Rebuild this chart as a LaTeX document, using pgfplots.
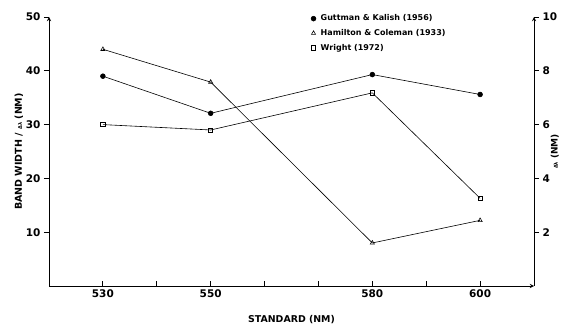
\documentclass[border=0pt]{standalone}
\usepackage{fontspec}
\setmainfont{DejaVu Sans}
\usepackage{pgfplots}
\pgfplotsset{compat=1.18}
\begin{document}
\begin{tikzpicture}
\pgfplotsset{
 common/.style={width=485pt,height=269pt,scale only axis,
   xmin=520,xmax=610,ymin=0,ymax=50,
   /pgf/number format/assume math mode=true,
   ticklabel style={font=\bfseries\fontsize{10.5}{12}\selectfont},
   axis line style={-, line width=0.9pt},
   tick style={line width=0.8pt, black},
   major tick length=5pt, minor tick length=5pt, clip=false},
}
\begin{axis}[common, name=ax,
  axis x line=bottom, axis y line=none, tick align=inside,
  xtick={530,550,580,600}, minor xtick={540,560,570,590},
  xlabel={STANDARD (NM)},
  xlabel style={font=\bfseries\fontsize{9.4}{11}\selectfont, at={(axis description cs:0.5,-0.126)}, anchor=center},
  legend image code/.code={\draw[#1,only marks] plot coordinates {(0.1cm,0cm)}; \path[draw=none,fill=none] (0.3cm,0cm);},
  legend style={draw=none, fill=none, font=\bfseries\fontsize{8}{9}\selectfont,
    at={(0.538,1.018)}, anchor=north west, row sep=4pt, inner sep=1pt,
    nodes={inner sep=1.5pt}},
  legend cell align=left,
]
\addplot[black, line width=0.6pt, mark=*, mark size=2.4pt] coordinates {(530,39.0) (550,32.1) (580,39.3) (600,35.6)};
\addlegendentry{Guttman \& Kalish (1956)}
\addplot[black, line width=0.6pt, mark=triangle, mark size=2.4pt, mark options={fill=white, line width=0.6pt}] coordinates {(530,44.0) (550,37.9) (580,8.0) (600,12.2)};
\addlegendentry{Hamilton \& Coleman (1933)}
\addplot[black, line width=0.6pt, mark=square, mark size=2.1pt, mark options={fill=white, line width=0.6pt}] coordinates {(530,30.0) (550,29.0) (580,35.9) (600,16.3)};
\addlegendentry{Wright (1972)}
\end{axis}
\begin{axis}[common,
  axis x line=none, axis y line=left, tick align=outside,
  ytick={10,20,30,40,50},
  ylabel={BAND WIDTH / {\fontsize{5}{6}\selectfont Δλ} (NM)},
  ylabel style={font=\bfseries\fontsize{9.5}{11}\selectfont, at={(axis description cs:-0.062,0.5)}, anchor=center},
]
\end{axis}
\begin{axis}[common, ymax=10,
  axis x line=none, axis y line=right, tick align=outside,
  ytick={2,4,6,8,10},
  ylabel={{\fontsize{5}{6}\selectfont Δλ} (NM)},
  ylabel style={font=\bfseries\fontsize{9}{10}\selectfont, at={(axis description cs:1.043,0.5)}, anchor=center},
]
\end{axis}
\pgfresetboundingbox
\path ([shift={(-49pt,-40pt)}]ax.south west) rectangle ([shift={(35pt,17pt)}]ax.north east);
\end{tikzpicture}
\end{document}
